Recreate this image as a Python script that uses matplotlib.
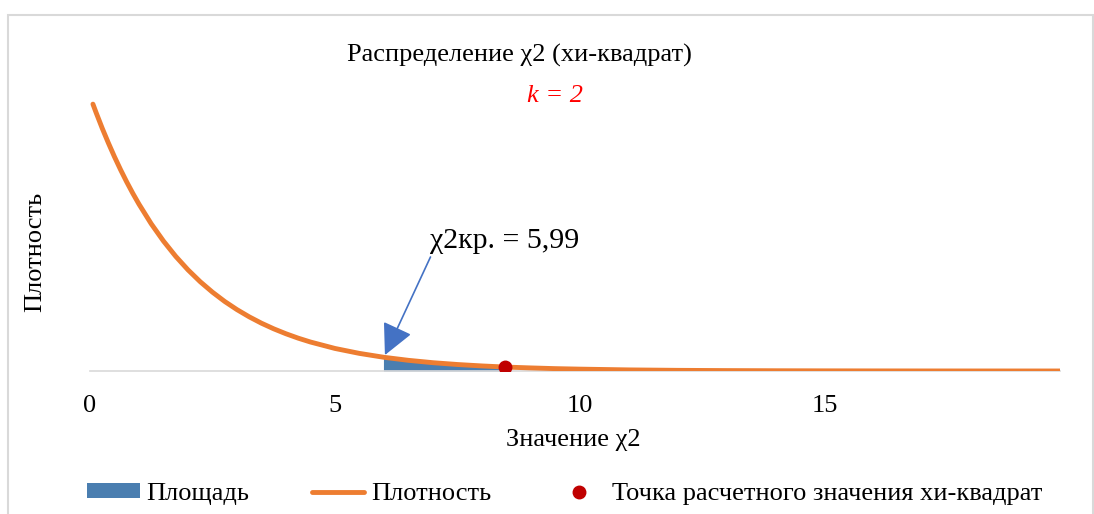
import matplotlib

matplotlib.use("Agg")
import matplotlib.pyplot as plt
from matplotlib.lines import Line2D
from matplotlib.patches import Patch, Rectangle

plt.rcParams["font.family"] = ["Liberation Serif", "DejaVu Serif"]

# density curve of chi-square, k = 2
dens_x = [0.06, 0.125, 0.25, 0.375, 0.5, 0.625, 0.75, 0.875, 1.0, 1.25,
          1.5, 1.75, 2.0, 2.25, 2.5, 2.75, 3.0, 3.25, 3.5, 3.75, 4.0, 4.25,
          4.5, 5.0, 5.5, 6.0, 6.5, 7.0, 7.5, 8.0, 8.5, 9.0, 9.5, 10.0,
          11.0, 12.0, 13.0, 14.0, 15.0, 16.0, 17.0, 18.0, 19.0, 19.8]
dens_y = [0.4852, 0.4697, 0.4412, 0.4146, 0.3894, 0.3658, 0.3436, 0.3228,
          0.3033, 0.2676, 0.2362, 0.2084, 0.1839, 0.1623, 0.1433, 0.1264,
          0.1116, 0.0985, 0.0869, 0.0767, 0.0677, 0.0597, 0.0527, 0.0410,
          0.0320, 0.0249, 0.0194, 0.0151, 0.0118, 0.0092, 0.0071, 0.0056,
          0.0043, 0.0034, 0.0020, 0.0012, 0.00075, 0.00046, 0.00028,
          0.00017, 0.00010, 0.00006, 0.00004, 0.00003]

# shaded area from the critical value to the computed value
area_x = [5.99, 6.5, 7.0, 7.5, 8.0, 8.47]
area_y = [0.0250, 0.0194, 0.0151, 0.0118, 0.0092, 0.0072]

chi_crit = 5.99
calc_x = 8.47
calc_y = 0.0072

x_ticks = [0, 5, 10, 15]

ORANGE = "#ED7D31"
BLUE = "#4A7EB0"
FS = 19

fig = plt.figure(figsize=(10.94, 5.14), dpi=100)
fig.patches.append(Rectangle((8 / 1094, -0.05), 1085 / 1094, 1.05 - 15 / 514,
                             transform=fig.transFigure, fill=False,
                             edgecolor="#D9D9D9", linewidth=1.5))

ax = fig.add_axes([90 / 1094, 143 / 514, 970 / 1094, 275 / 514])
ax.fill_between(area_x, 0, area_y, color=BLUE, linewidth=0, zorder=2)
ax.plot(dens_x, dens_y, color=ORANGE, linewidth=3.5, solid_capstyle="round",
        solid_joinstyle="round", zorder=3)
ax.plot([calc_x], [calc_y], "o", color="#C00000", markersize=9, zorder=4)

ax.annotate("χ2кр. = 5,99", xy=(chi_crit + 0.03, 0.029), xytext=(6.94, 0.236),
            fontsize=21.5, ha="left", va="center",
            arrowprops=dict(arrowstyle="-|>,head_length=0.9,head_width=0.45",
                            color="#4472C4", linewidth=1.2,
                            shrinkA=0, shrinkB=0,
                            relpos=(0.02, 0.1)))

ax.set_xlim(0, 19.8)
ax.set_ylim(0, 0.5)
ax.set_xticks(x_ticks)
ax.set_xticklabels([str(t) for t in x_ticks], fontsize=FS)
ax.tick_params(axis="x", length=0, pad=17)
ax.set_yticks([])
for side in ["top", "right", "left"]:
    ax.spines[side].set_visible(False)
ax.spines["bottom"].set_color("#D9D9D9")
ax.spines["bottom"].set_linewidth(1.2)

fig.text(519 / 1094, 1 - 55 / 514, "Распределение χ2 (хи-квадрат)",
         fontsize=FS, ha="center", va="center")
fig.text(555 / 1094, 1 - 96 / 514, "k = 2", fontsize=FS, color="#FF0000",
         style="italic", ha="center", va="center")
fig.text(573 / 1094, 1 - 440 / 514, "Значение χ2", fontsize=FS,
         ha="center", va="center")
fig.text(35 / 1094, 1 - 252 / 514, "Плотность", fontsize=FS, rotation=90,
         ha="center", va="center")

handles = [
    Patch(facecolor=BLUE, edgecolor="none"),
    Line2D([0], [0], color=ORANGE, linewidth=3.5, solid_capstyle="round"),
    Line2D([0], [0], marker="o", color="none", markerfacecolor="#C00000",
           markeredgecolor="#C00000", markersize=9),
]
labels = ["Площадь", "Плотность", "Точка расчетного значения хи-квадрат"]
fig.legend(handles, labels, loc="center", bbox_to_anchor=(565 / 1094, 1 - 494 / 514),
           ncol=3, frameon=False, fontsize=FS, columnspacing=2.35,
           handlelength=2.0, handletextpad=0.25, handleheight=0.5,
           borderpad=0, borderaxespad=0)

fig.savefig("out.png", dpi=100)
